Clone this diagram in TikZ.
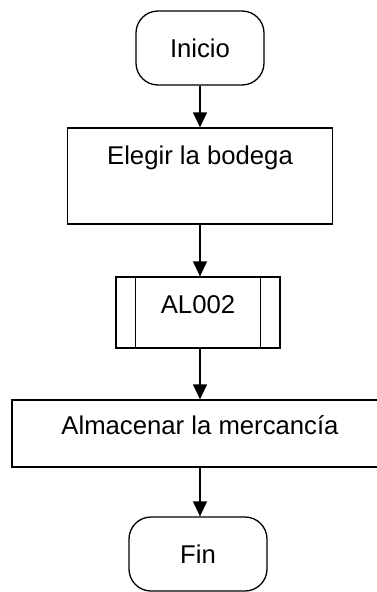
\documentclass[tikz,border=0pt]{standalone}
\usepackage{fontspec}
\setmainfont{Liberation Sans}
\usetikzlibrary{arrows.meta}
\tikzset{
  every picture/.style={font=\fontsize{25.7}{30}\selectfont},
  flow base/.style={draw=black, line width=1.3pt, fill=white, inner sep=0pt,
    text height=19pt, text depth=17.6pt},
  flow term/.style={flow base, rounded corners=22pt, text depth=0pt},
  flow proc/.style={flow base},
  flow arrow/.style={-{Triangle[length=15pt,width=14pt]}, draw=black, line width=1.3pt}
}

\begin{document}
\begin{tikzpicture}[x=1pt,y=-1pt]
  \useasboundingbox (0,0) rectangle (377,592);
  \clip (0,0) rectangle (377,592);
  \node[flow term, minimum width=128pt, minimum height=74pt] (inicio) at (200,48) {Inicio};
  \node[flow proc, minimum width=265pt, minimum height=96pt, text depth=42.6pt] (bodega) at (200,176) {Elegir la bodega};
  \node[flow proc, minimum width=164pt, minimum height=71pt] (al002) at (198,312.5) {AL002};
  \node[flow proc, minimum width=376pt, minimum height=67pt] (almacen) at (200,433.5) {Almacenar la mercancía};
  \node[flow term, minimum width=138pt, minimum height=74pt] (fin) at (198,554) {Fin};
  % side bars of the predefined process
  \draw[line width=1.3pt] ([xshift=20pt]al002.north west) -- ([xshift=20pt]al002.south west)
    ([xshift=-20pt]al002.north east) -- ([xshift=-20pt]al002.south east);
  \draw[flow arrow] (inicio) -- (inicio.south |- bodega.north);
  \draw[flow arrow] (bodega) -- (bodega.south |- al002.north);
  \draw[flow arrow] (al002.south -| almacen) -- (almacen);
  \draw[flow arrow] (almacen) -- (almacen.south |- fin.north);
\end{tikzpicture}
\end{document}
